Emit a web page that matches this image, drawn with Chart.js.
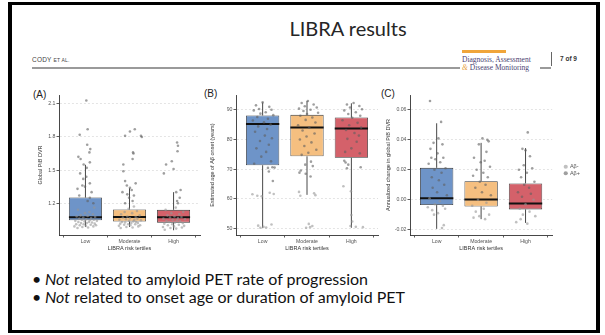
<!DOCTYPE html>
<html>
<head>
<meta charset="utf-8">
<script src="https://cdn.jsdelivr.net/npm/chart.js@4.4.1/dist/chart.umd.min.js"></script>
<style>
  body { margin: 0; width: 605px; height: 335px; background: #fff; position: relative; overflow: hidden; font-family: Lato, "Open Sans", sans-serif; }
  .frame { position: absolute; left: 8px; top: 2px; width: 592px; height: 331px; box-sizing: border-box; border: 4px solid #000; border-top-width: 3px; border-bottom-width: 3px; }
  .title { position: absolute; left: 248px; width: 200px; top: 15px; text-align: center; font-size: 20px; line-height: 26px; color: #262626; }
  .runhead { position: absolute; left: 32px; top: 56px; font: 6.5px "Liberation Sans"; letter-spacing: 0.2px; color: #444; }
  .rule { position: absolute; top: 67px; height: 1.5px; background: #9a9a9a; }
  .jbar { position: absolute; left: 462px; top: 50px; width: 44px; height: 3px; background: #f0a53a; }
  .jname { position: absolute; left: 462px; font: 7.5px "Liberation Serif"; color: #4b3f72; line-height: 8px; white-space: nowrap; }
  .sep { position: absolute; left: 551px; top: 52px; width: 1px; height: 14px; background: #666; }
  .page { position: absolute; left: 560px; top: 55px; font: bold 6.5px "Liberation Sans"; color: #333; }
  .tag { position: absolute; font: 10px "Liberation Sans"; color: #222; }
  canvas { position: absolute; }
  .bullets { position: absolute; left: 32px; top: 270px; font-size: 16px; line-height: 18px; color: #111; }
  .bullets span { display: inline-block; width: 13px; }
</style>
</head>
<body>
<div class="frame"></div>
<div class="title">LIBRA results</div>
<div class="runhead">CODY <span style="font-size:5px">ET AL.</span></div>
<div class="rule" style="left:32px;width:428px"></div>
<div class="rule" style="left:540px;width:11px"></div>
<div class="jbar"></div>
<div class="jname" style="top:56px">Diagnosis, Assessment</div>
<div class="jname" style="top:64px"><i style="color:#e8a03c">&amp;</i> Disease Monitoring</div>
<div class="sep"></div>
<div class="page">7 of 9</div>

<div class="tag" style="left:33px;top:89px">(A)</div>
<div class="tag" style="left:204px;top:88px">(B)</div>
<div class="tag" style="left:381px;top:88px">(C)</div>

<canvas id="panelA" width="185" height="170" style="left:20px;top:85px"></canvas>
<canvas id="panelB" width="183" height="170" style="left:200px;top:85px"></canvas>
<canvas id="panelC" width="221" height="170" style="left:375px;top:85px"></canvas>

<div class="bullets">
  <div><span>•</span><i>Not</i> related to amyloid PET rate of progression</div>
  <div><span>•</span><i>Not</i> related to onset age or duration of amyloid PET</div>
</div>

<script>
const tertiles = ['Low', 'Moderate', 'High'];

// (A) global PiB DVR
const dvrTicks = [1.2, 1.5, 1.8, 2.1];
const dvrLo = [0.985, 0.985, 0.955];
const dvrQ1 = [1.045, 1.034, 1.024];
const dvrMed = [1.072, 1.076, 1.073];
const dvrQ3 = [1.251, 1.143, 1.14];
const dvrHi = [1.548, 1.335, 1.30];
const dvrNeg = [
  [0.82,0.975],[1.06,0.98],[0.93,0.985],[1.18,0.99],[0.75,0.99],[1.01,0.995],[1.24,1.0],[0.87,1.0],[1.12,1.005],[0.96,1.01],
  [0.79,1.01],[1.21,1.015],[1.03,1.02],[0.9,1.02],[1.15,1.025],[0.84,1.03],[1.08,1.03],[0.98,1.035],[1.26,1.04],[0.77,1.04],
  [1.1,1.045],[0.92,1.05],[1.19,1.05],[1.02,1.055],[0.86,1.06],[1.13,1.065],[0.95,1.07],[1.22,1.075],[0.8,1.08],[1.05,1.085],
  [0.89,1.09],[1.17,1.1],[0.99,1.11],[1.09,1.12],[0.83,1.14],[1.2,1.16],
  [1.8,0.975],[2.07,0.98],[1.93,0.985],[2.2,0.99],[1.76,0.995],[2.02,1.0],[2.24,1.0],[1.88,1.005],[2.13,1.01],[1.97,1.01],
  [1.79,1.015],[2.19,1.02],[2.04,1.02],[1.9,1.025],[2.15,1.03],[1.83,1.03],[2.09,1.035],[1.99,1.04],[2.26,1.045],[1.77,1.05],
  [2.11,1.05],[1.92,1.055],[2.18,1.06],[2.01,1.065],[1.85,1.07],[2.14,1.075],[1.95,1.08],[2.23,1.09],[1.81,1.1],[2.06,1.11],
  [1.89,1.12],[2.17,1.13],[1.98,1.15],[2.1,1.17],
  [2.8,0.96],[3.06,0.97],[2.93,0.975],[3.19,0.98],[2.76,0.985],[3.01,0.99],[3.24,0.995],[2.87,1.0],[3.12,1.005],[2.97,1.01],
  [2.79,1.015],[3.21,1.02],[3.03,1.025],[2.9,1.03],[3.15,1.035],[2.84,1.04],[3.08,1.045],[2.98,1.05],[3.26,1.055],[2.77,1.06],
  [3.1,1.065],[2.92,1.07],[3.18,1.075],[3.02,1.08],[2.86,1.09],[3.13,1.1],[2.95,1.11],[3.22,1.12],[2.82,1.14],[3.05,1.16]
];
const dvrPos = [
  [1.02,2.13],[1.05,1.87],[0.87,1.82],[1.04,1.73],[1.11,1.69],[1.09,1.66],[0.84,1.62],[0.89,1.6],[1.1,1.57],[0.96,1.55],
  [1.03,1.52],[0.88,1.47],[1.02,1.44],[0.95,1.42],[1.1,1.38],[0.93,1.36],[0.99,1.35],[0.82,1.33],[1.14,1.3],[0.86,1.27],
  [1.1,1.25],[1.05,1.22],[1.18,1.2],
  [2.12,1.87],[2.01,1.85],[1.9,1.81],[2.26,1.81],[2.28,1.8],[2.08,1.66],[2.09,1.65],[2.07,1.6],[1.86,1.55],[1.86,1.49],
  [1.9,1.4],[2.14,1.38],[1.94,1.36],[2.01,1.34],[2.05,1.32],[1.84,1.3],[1.95,1.28],[2.1,1.27],[1.99,1.25],[2.07,1.22],[1.9,1.2],
  [3.08,1.75],[3.1,1.72],[3.09,1.67],[2.96,1.58],[2.83,1.55],[3.0,1.51],[2.78,1.47],[3.16,1.32],[3.06,1.3],[3.14,1.25],
  [3.08,1.22],[3.1,1.2]
];

// (B) estimated age of amyloid onset
const onsetTicks = [50, 60, 70, 80, 90];
const onsetLo = [50.2, 61.3, 50.2];
const onsetQ1 = [71.3, 74.3, 73.8];
const onsetMed = [85.2, 84.0, 83.7];
const onsetQ3 = [88.1, 88.3, 87.4];
const onsetHi = [92.5, 93.0, 92.2];
const onsetNeg = [
  [0.77,61.5],[0.88,61],[1.16,62],[1.25,61.6],[0.98,60.8],[0.9,50.9],[1.02,50.5],[0.95,50.2],[1.2,51.3],[1.08,50.3],
  [2.16,61.8],[1.82,62.3],[1.85,61],[2.19,61.2],[2.04,51.5],[2.12,50.8],[2.07,50.4],[1.98,50.2],
  [2.82,64.2],[2.99,62.5],[3.0,54.5],[3.02,52.3],[2.98,50.8],[3.1,50.5],[3.26,50.4]
];
const onsetPos = [
  [1.0,92.5],[0.85,91.5],[1.15,91],[0.92,90.3],[1.2,90],[0.8,89.8],[1.07,89.2],[0.95,88.7],[1.24,88.2],[0.88,87.6],
  [1.12,87],[0.78,86.4],[1.03,85.8],[1.18,85],[0.9,84.4],[1.1,83.5],[0.83,82.6],[1.05,81.3],[1.21,80.4],[0.94,79.5],
  [1.14,78.2],[0.86,77],[1.08,75.8],[0.97,74.2],[1.19,72.6],[0.81,71.8],[1.22,70.6],[1.12,70.4],[1.27,70.5],[1.14,69.2],[1.23,66],
  [2.02,93],[1.88,92.3],[2.15,91.8],[1.95,91.2],[2.22,90.8],[1.82,90.4],[2.08,90],[1.92,89.6],[2.25,89],[2.0,88.6],
  [1.85,88],[2.12,87.4],[1.97,86.6],[2.19,85.7],[1.8,84.8],[2.05,84],[1.9,83],[2.17,82],[1.99,81],[1.84,80],
  [2.1,79],[1.94,77.8],[2.21,76.5],[2.03,75.5],[1.88,74.8],[2.09,72.5],[1.96,71.5],[2.13,71],[1.86,69.5],[1.83,68.8],[1.97,68.4],[2.08,67.5],
  [3.05,92.3],[2.9,91.8],[3.18,91.3],[2.97,90.8],[3.24,90.2],[2.84,89.8],[3.1,89.2],[2.93,88.6],[3.2,88],[3.02,87.3],
  [2.8,86.5],[3.14,85.6],[2.95,84.8],[3.22,84],[2.88,83.2],[3.07,82.2],[3.17,81.3],[2.91,80.2],[3.12,79.2],[3.0,77],
  [2.86,75.8],[3.19,75.3],[2.84,72.8],[2.87,72.2],[2.93,71.5],[3.21,70.6],[2.9,70.3]
];

// (C) annualized change in global PiB DVR
const changeTicks = [-0.02, 0, 0.02, 0.04, 0.06];
const changeLo = [-0.0195, -0.013, -0.0155];
const changeQ1 = [-0.0036, -0.0045, -0.0065];
const changeMed = [0.0009, 0.0002, -0.0025];
const changeQ3 = [0.0213, 0.0124, 0.0109];
const changeHi = [0.0511, 0.038, 0.0345];
const changeNeg = [
  [0.84,0.001],[1.07,-0.001],[0.96,-0.003],[1.14,-0.004],[0.8,-0.005],[1.19,-0.006],[0.9,-0.007],[1.03,-0.009],[0.94,-0.01],[1.16,-0.017],[1.12,-0.019],
  [1.93,0.0],[2.12,-0.002],[1.8,-0.004],[2.06,-0.006],[1.88,-0.008],[2.18,-0.01],[1.96,-0.011],[1.83,-0.012],[2.09,-0.013],
  [3.18,0.0],[3.0,-0.003],[2.87,-0.006],[3.09,-0.008],[2.94,-0.01],[3.22,-0.011],[2.89,-0.013],[2.79,-0.015],[3.04,-0.016]
];
const changePos = [
  [0.85,0.066],[1.1,0.052],[1.04,0.041],[0.93,0.038],[1.13,0.037],[0.86,0.034],[1.02,0.031],[0.88,0.028],[1.15,0.028],[0.97,0.027],
  [1.08,0.025],[0.82,0.024],[1.2,0.021],[0.95,0.02],[1.11,0.018],[0.89,0.015],[1.05,0.013],[1.17,0.01],[0.91,0.008],[1.01,0.005],[1.23,0.003],
  [2.03,0.041],[2.14,0.04],[2.17,0.039],[1.95,0.037],[2.12,0.032],[1.84,0.028],[2.08,0.026],[1.99,0.025],[2.2,0.022],[1.9,0.02],
  [2.05,0.018],[1.82,0.016],[2.15,0.015],[1.97,0.012],[2.1,0.01],[1.87,0.008],[2.02,0.005],[2.22,0.003],
  [3.05,0.045],[2.93,0.034],[3.0,0.033],[3.1,0.029],[2.96,0.023],[3.15,0.021],[2.85,0.02],[3.03,0.018],[2.9,0.015],[3.2,0.012],
  [2.97,0.01],[3.08,0.008],[2.83,0.005],[3.12,0.004],[2.92,0.002]
];

const boxColors = ['#6e94c8', '#f5bf80', '#d4616a'];
const negColor = 'rgba(150,150,150,0.6)';
const posColor = 'rgba(95,95,95,0.6)';
const inkColor = '#333';

Chart.defaults.font.family = '"Liberation Sans", Arial, sans-serif';

// whiskers and median drawn right after the boxes, under the points
const boxWhiskers = {
  id: 'boxWhiskers',
  afterDatasetDraw(chart, args, opts) {
    if (args.meta.type !== 'bar') return;
    const { ctx } = chart;
    const ys = chart.scales.y;
    const py = (v) => ys.getPixelForValue(v);
    ctx.save();
    args.meta.data.forEach((bar, i) => {
      const half = bar.width / 2;
      ctx.strokeStyle = inkColor;
      ctx.lineWidth = 0.9;
      ctx.beginPath();
      ctx.moveTo(bar.x, py(opts.lo[i]));
      ctx.lineTo(bar.x, py(opts.q1[i]));
      ctx.moveTo(bar.x, py(opts.q3[i]));
      ctx.lineTo(bar.x, py(opts.hi[i]));
      ctx.stroke();
      ctx.strokeStyle = '#111';
      ctx.lineWidth = 2;
      ctx.beginPath();
      ctx.moveTo(bar.x - half, py(opts.med[i]));
      ctx.lineTo(bar.x + half, py(opts.med[i]));
      ctx.stroke();
    });
    ctx.restore();
  }
};

// nudge the legend away from the plot panel
const legendShift = {
  id: 'legendShift',
  afterLayout(chart, args, opts) {
    const lg = chart.legend;
    if (!lg || !opts.dx) return;
    lg.left += opts.dx;
    lg.right += opts.dx;
    lg.top += opts.dy || 0;
    lg.bottom += opts.dy || 0;
  }
};

function makePanel(id, p) {
  const toXY = (pts) => pts.map(([x, y]) => ({ x, y }));
  return new Chart(document.getElementById(id), {
    type: 'bar',
    data: {
      datasets: [
        {
          type: 'bar',
          label: 'box',
          data: tertiles.map((t, i) => ({ x: i + 1, y: [p.q1[i], p.q3[i]] })),
          backgroundColor: boxColors,
          borderColor: inkColor,
          borderWidth: 0.8,
          borderSkipped: false,
          barPercentage: 0.75,
          categoryPercentage: 1,
          order: 1
        },
        {
          type: 'scatter',
          label: 'Aβ-',
          data: toXY(p.neg),
          backgroundColor: negColor,
          pointBackgroundColor: negColor,
          pointRadius: 1.3,
          pointBorderWidth: 0,
          borderWidth: 0,
          order: 0
        },
        {
          type: 'scatter',
          label: 'Aβ+',
          data: toXY(p.pos),
          backgroundColor: posColor,
          pointBackgroundColor: posColor,
          pointRadius: 1.3,
          pointBorderWidth: 0,
          borderWidth: 0,
          order: 0
        }
      ]
    },
    options: {
      responsive: false,
      animation: false,
      events: [],
      devicePixelRatio: 1,
      layout: { padding: { top: 10, right: p.padRight, left: 0, bottom: 0 } },
      scales: {
        x: {
          type: 'linear',
          min: 0.4,
          max: 3.6,
          offset: false,
          afterFit: (s) => { s.height = 20; },
          afterBuildTicks: (s) => { s.ticks = tertiles.map((t, i) => ({ value: i + 1 })); },
          ticks: {
            callback: (v) => tertiles[v - 1],
            autoSkip: false,
            maxRotation: 0,
            padding: 1,
            color: '#555',
            font: { size: 5.2 }
          },
          grid: { drawOnChartArea: false, tickLength: 2.5, tickColor: inkColor, tickWidth: 0.8 },
          border: { color: inkColor, width: 0.9 },
          title: { display: true, text: 'LIBRA risk tertiles', color: '#333', font: { size: 5.5 }, padding: { top: 0, bottom: 3.7 } }
        },
        y: {
          min: p.min,
          max: p.max,
          afterFit: (s) => { s.width = p.yWidth; },
          afterBuildTicks: (s) => { s.ticks = p.ticks.map((v) => ({ value: v })); },
          ticks: {
            callback: (v) => v.toFixed(p.digits),
            padding: 1,
            color: '#555',
            font: { size: 5.2 }
          },
          grid: { color: '#dedede', lineWidth: 0.8, tickLength: 2.5, tickColor: inkColor, tickWidth: 0.8 },
          border: { color: inkColor, width: 0.9, dash: [2, 2] },
          title: { display: true, text: p.yTitle, color: '#333', font: { size: 5.5 }, padding: { top: p.titlePad, bottom: 0 } }
        }
      },
      plugins: {
        legend: {
          display: p.legend,
          position: 'right',
          labels: {
            filter: (item) => item.datasetIndex > 0,
            usePointStyle: true,
            pointStyle: 'circle',
            boxWidth: 3,
            boxHeight: 3,
            padding: 1,
            color: '#555',
            font: { size: 5.5 }
          }
        },
        tooltip: { enabled: false },
        boxWhiskers: { lo: p.lo, q1: p.q1, med: p.med, q3: p.q3, hi: p.hi },
        legendShift: { dx: p.legendDx || 0, dy: p.legendDy || 0 }
      }
    },
    plugins: [boxWhiskers, legendShift]
  });
}

makePanel('panelA', {
  lo: dvrLo, q1: dvrQ1, med: dvrMed, q3: dvrQ3, hi: dvrHi, neg: dvrNeg, pos: dvrPos,
  ticks: dvrTicks, digits: 1, min: 0.912, max: 2.18,
  yTitle: 'Global PiB DVR', yWidth: 39, titlePad: 16.7, padRight: 5, legend: false
});

makePanel('panelB', {
  lo: onsetLo, q1: onsetQ1, med: onsetMed, q3: onsetQ3, hi: onsetHi, neg: onsetNeg, pos: onsetPos,
  ticks: onsetTicks, digits: 0, min: 47.75, max: 95,
  yTitle: 'Estimated age of Aβ onset (years)', yWidth: 36, titlePad: 8.7, padRight: 5, legend: false
});

makePanel('panelC', {
  lo: changeLo, q1: changeQ1, med: changeMed, q3: changeQ3, hi: changeHi, neg: changeNeg, pos: changePos,
  ticks: changeTicks, digits: 2, min: -0.0236, max: 0.07,
  yTitle: 'Annualized change in global PiB DVR', yWidth: 35, titlePad: 9.7, padRight: 17, legend: true,
  legendDx: 11, legendDy: -5
});
</script>
</body>
</html>
